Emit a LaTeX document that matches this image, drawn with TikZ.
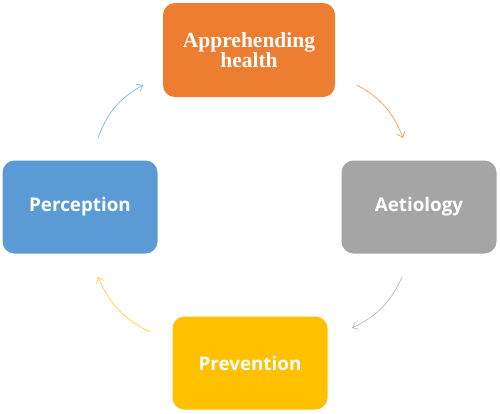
\documentclass[tikz,border=0pt]{standalone}
\usepackage{fontspec}
\setmainfont{Liberation Serif}
\newfontfamily\boxsans{Open Sans}
\usetikzlibrary{arrows.meta}
\definecolor{cOrange}{HTML}{ED7D31}
\definecolor{cGray}{HTML}{A5A5A5}
\definecolor{cYellow}{HTML}{FFC000}
\definecolor{cBlue}{HTML}{5B9BD5}
\tikzset{
  stagebox/.style={rounded corners=12pt, minimum width=155pt, minimum height=93pt, text=white, align=center, inner sep=0pt},
  sanslabel/.style={font=\boxsans\bfseries\fontsize{18.8}{20}\selectfont},
  cyclearrow/.style={line width=0.6pt, -{Straight Barb[length=5pt,width=8pt]}, bend left=20}
}
\begin{document}
\begin{tikzpicture}[x=1pt,y=-1pt]
\useasboundingbox (0,0) rectangle (500,413);
\node[stagebox, fill=cOrange, minimum width=172pt, minimum height=94pt, font=\bfseries\fontsize{21.5}{20.5}\selectfont] (top) at (249,50) {Apprehending\\health};
\node[stagebox, sanslabel, fill=cGray] (right) at (419,207) {Aetiology};
\node[stagebox, sanslabel, fill=cBlue] (left) at (80,207) {Perception};
\node[stagebox, sanslabel, fill=cYellow] (bottom) at (250,363) {Prevention};
\coordinate (b1) at (98,138); \coordinate (b2) at (143,85);
\coordinate (o1) at (357,85); \coordinate (o2) at (403,138);
\coordinate (g1) at (402,277); \coordinate (g2) at (352,328);
\coordinate (y1) at (150,332); \coordinate (y2) at (98,277);
\draw[cyclearrow, cBlue!85] (b1) to (b2);
\draw[cyclearrow, cOrange!85] (o1) to (o2);
\draw[cyclearrow, cGray!85] (g1) to (g2);
\draw[cyclearrow, cYellow!85] (y1) to (y2);
\end{tikzpicture}
\end{document}
